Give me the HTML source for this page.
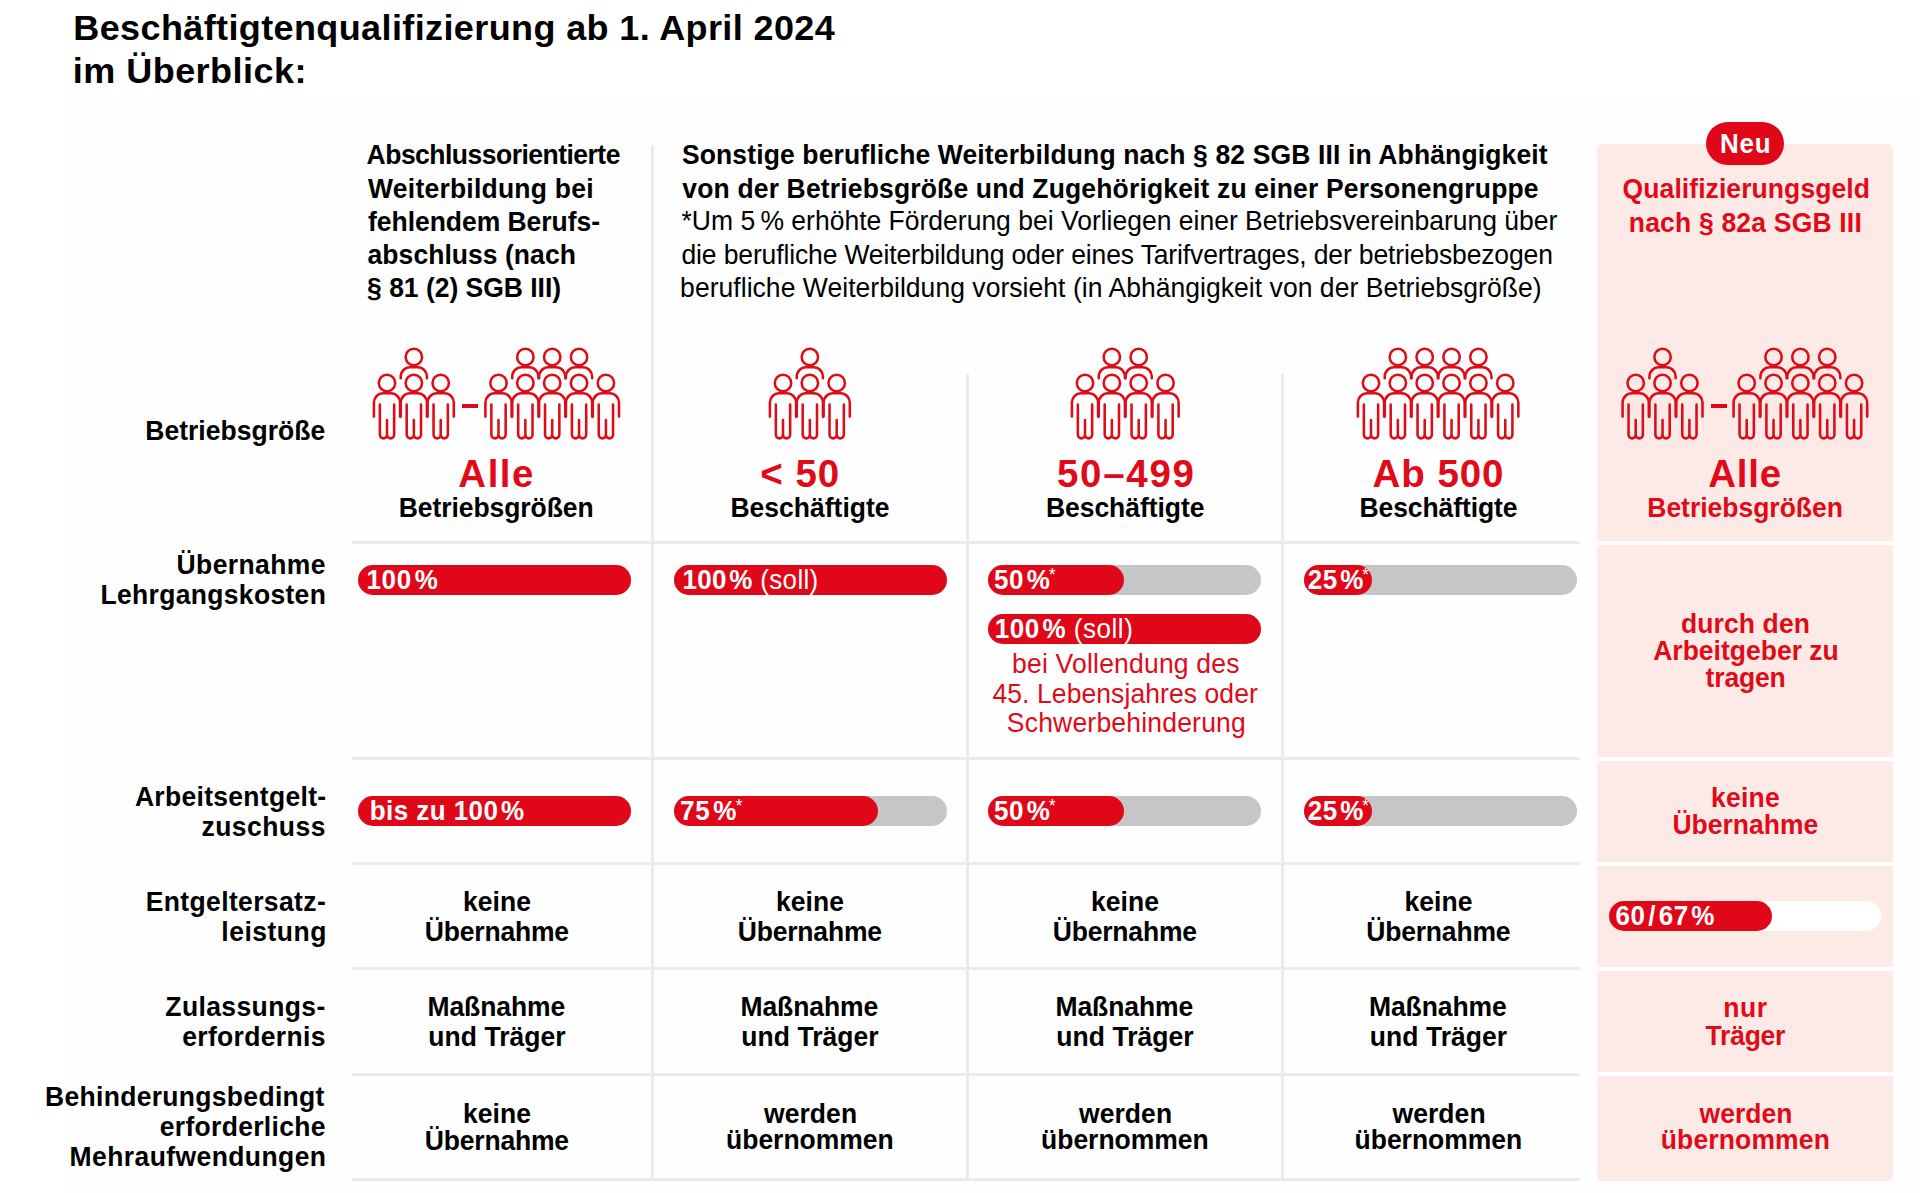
<!DOCTYPE html><html><head><meta charset="utf-8"><style>html,body{margin:0;padding:0;overflow:hidden;}body{width:1920px;height:1193px;position:relative;overflow:hidden;background:#fff;font-family:"Liberation Sans",sans-serif;}</style></head><body>
<div style="position:absolute;left:63px;top:96px;width:1857px;height:1097px;background:#fefefe;border-radius:0px;"></div>
<div id="t0" style="position:absolute;left:73.30px;top:3.52px;width:1200px;text-align:left;font-size:36px;font-weight:700;color:#000;line-height:47px;letter-spacing:0.386px;white-space:nowrap;transform:scaleY(0.98);transform-origin:0 35.98px;"><span>Beschäftigtenqualifizierung ab 1. April 2024</span></div>
<div id="t1" style="position:absolute;left:72.80px;top:46.52px;width:1200px;text-align:left;font-size:36px;font-weight:700;color:#000;line-height:47px;letter-spacing:0.467px;white-space:nowrap;transform:scaleY(0.98);transform-origin:0 35.98px;"><span>im Überblick:</span></div>
<div style="position:absolute;left:1597px;top:144px;width:296px;height:1036.5px;background:#fdeae7;border-radius:6px;"></div>
<div style="position:absolute;left:1597px;top:541px;width:296px;height:4px;background:#fff;border-radius:0px;"></div>
<div style="position:absolute;left:1597px;top:757px;width:296px;height:4px;background:#fff;border-radius:0px;"></div>
<div style="position:absolute;left:1597px;top:862px;width:296px;height:4px;background:#fff;border-radius:0px;"></div>
<div style="position:absolute;left:1597px;top:967px;width:296px;height:4px;background:#fff;border-radius:0px;"></div>
<div style="position:absolute;left:1597px;top:1072px;width:296px;height:4px;background:#fff;border-radius:0px;"></div>
<div style="position:absolute;left:352px;top:541px;width:1228px;height:3px;background:#ebeaed;border-radius:0px;"></div>
<div style="position:absolute;left:352px;top:757px;width:1228px;height:3px;background:#ebeaed;border-radius:0px;"></div>
<div style="position:absolute;left:352px;top:862px;width:1228px;height:3px;background:#ebeaed;border-radius:0px;"></div>
<div style="position:absolute;left:352px;top:967px;width:1228px;height:3px;background:#ebeaed;border-radius:0px;"></div>
<div style="position:absolute;left:352px;top:1072.5px;width:1228px;height:3px;background:#ebeaed;border-radius:0px;"></div>
<div style="position:absolute;left:352px;top:1178px;width:1228px;height:3px;background:#ebeaed;border-radius:0px;"></div>
<div style="position:absolute;left:651px;top:145px;width:3px;height:1035px;background:#ebeaed;border-radius:0px;"></div>
<div style="position:absolute;left:965.5px;top:374px;width:3px;height:806px;background:#ebeaed;border-radius:0px;"></div>
<div style="position:absolute;left:1280.5px;top:374px;width:3px;height:806px;background:#ebeaed;border-radius:0px;"></div>
<div id="h1_0" style="position:absolute;left:366.60px;top:138.31px;width:1200px;text-align:left;font-size:26.5px;font-weight:700;color:#000;line-height:34px;letter-spacing:-0.516px;white-space:nowrap;transform:scaleY(1.03);transform-origin:0 26.19px;"><span>Abschlussorientierte</span></div>
<div id="h1_1" style="position:absolute;left:368.10px;top:171.51px;width:1200px;text-align:left;font-size:26.5px;font-weight:700;color:#000;line-height:34px;letter-spacing:0.225px;white-space:nowrap;transform:scaleY(1.03);transform-origin:0 26.19px;"><span>Weiterbildung bei</span></div>
<div id="h1_2" style="position:absolute;left:368.00px;top:204.71px;width:1200px;text-align:left;font-size:26.5px;font-weight:700;color:#000;line-height:34px;letter-spacing:-0.037px;white-space:nowrap;transform:scaleY(1.03);transform-origin:0 26.19px;"><span>fehlendem Berufs-</span></div>
<div id="h1_3" style="position:absolute;left:367.60px;top:237.91px;width:1200px;text-align:left;font-size:26.5px;font-weight:700;color:#000;line-height:34px;letter-spacing:0.043px;white-space:nowrap;transform:scaleY(1.03);transform-origin:0 26.19px;"><span>abschluss (nach</span></div>
<div id="h1_4" style="position:absolute;left:367.10px;top:271.11px;width:1200px;text-align:left;font-size:26.5px;font-weight:700;color:#000;line-height:34px;letter-spacing:-0.025px;white-space:nowrap;transform:scaleY(1.03);transform-origin:0 26.19px;"><span>§ 81 (2) SGB III)</span></div>
<div id="h2_0" style="position:absolute;left:681.90px;top:138.31px;width:1200px;text-align:left;font-size:26.5px;font-weight:700;color:#000;line-height:34px;letter-spacing:0.133px;white-space:nowrap;transform:scaleY(1.03);transform-origin:0 26.19px;"><span>Sonstige berufliche Weiterbildung nach § 82 SGB III in Abhängigkeit</span></div>
<div id="h2_1" style="position:absolute;left:682.30px;top:171.51px;width:1200px;text-align:left;font-size:26.5px;font-weight:700;color:#000;line-height:34px;letter-spacing:0.155px;white-space:nowrap;transform:scaleY(1.03);transform-origin:0 26.19px;"><span>von der Betriebsgröße und Zugehörigkeit zu einer Personengruppe</span></div>
<div id="h3_0" style="position:absolute;left:681.50px;top:204.31px;width:1200px;text-align:left;font-size:26.5px;font-weight:400;color:#000;line-height:34px;letter-spacing:-0.000px;white-space:nowrap;transform:scaleY(1.03);transform-origin:0 26.19px;"><span>*Um 5&#8201;% erhöhte Förderung bei Vorliegen einer Betriebsvereinbarung über</span></div>
<div id="h3_1" style="position:absolute;left:681.50px;top:237.51px;width:1200px;text-align:left;font-size:26.5px;font-weight:400;color:#000;line-height:34px;letter-spacing:-0.135px;white-space:nowrap;transform:scaleY(1.03);transform-origin:0 26.19px;"><span>die berufliche Weiterbildung oder eines Tarifvertrages, der betriebsbezogen</span></div>
<div id="h3_2" style="position:absolute;left:680.10px;top:270.71px;width:1200px;text-align:left;font-size:26.5px;font-weight:400;color:#000;line-height:34px;letter-spacing:0.044px;white-space:nowrap;transform:scaleY(1.03);transform-origin:0 26.19px;"><span>berufliche Weiterbildung vorsieht (in Abhängigkeit von der Betriebsgröße)</span></div>
<div style="position:absolute;left:1706px;top:122px;width:78px;height:43px;background:#e00818;border-radius:22px;"></div>
<div id="neu" style="position:absolute;left:1145.70px;top:127.29px;width:1200px;text-align:center;font-size:26px;font-weight:700;color:#fff;line-height:34px;letter-spacing:0.700px;white-space:nowrap;transform:scaleY(1.03);transform-origin:0 26.01px;"><span>Neu</span></div>
<div id="h5_0" style="position:absolute;left:1146.30px;top:171.91px;width:1200px;text-align:center;font-size:26.5px;font-weight:700;color:#e00a18;line-height:34px;letter-spacing:0.078px;white-space:nowrap;transform:scaleY(1.03);transform-origin:0 26.19px;"><span>Qualifizierungsgeld</span></div>
<div id="h5_1" style="position:absolute;left:1145.40px;top:206.11px;width:1200px;text-align:center;font-size:26.5px;font-weight:700;color:#e00a18;line-height:34px;letter-spacing:0.188px;white-space:nowrap;transform:scaleY(1.03);transform-origin:0 26.19px;"><span>nach § 82a SGB III</span></div>
<svg style="position:absolute;left:0;top:0" width="1920" height="1193"><g fill="none" stroke="#dc0d18" stroke-width="2.55" stroke-linecap="round"><circle cx="413.85" cy="357.00" r="8.2"/><path d="M400.75 378.30 V376.60 A9.3 9.3 0 0 1 410.05 367.30 H417.65 A9.3 9.3 0 0 1 426.95 376.60 V378.30"/><circle cx="387.00" cy="383.00" r="8.2"/><path d="M373.90 416.60 V402.60 A9.3 9.3 0 0 1 383.20 393.30 H390.80 A9.3 9.3 0 0 1 400.10 402.60 V416.60"/><path d="M379.85 404.50 V434.80 A3.575 3.575 0 0 0 387.00 434.80 A3.575 3.575 0 0 0 394.15 434.80 V404.50 M387.00 434.80 V420.00"/><circle cx="413.85" cy="383.00" r="8.2"/><path d="M400.75 416.60 V402.60 A9.3 9.3 0 0 1 410.05 393.30 H417.65 A9.3 9.3 0 0 1 426.95 402.60 V416.60"/><path d="M406.70 404.50 V434.80 A3.575 3.575 0 0 0 413.85 434.80 A3.575 3.575 0 0 0 421.00 434.80 V404.50 M413.85 434.80 V420.00"/><circle cx="440.70" cy="383.00" r="8.2"/><path d="M427.60 416.60 V402.60 A9.3 9.3 0 0 1 436.90 393.30 H444.50 A9.3 9.3 0 0 1 453.80 402.60 V416.60"/><path d="M433.55 404.50 V434.80 A3.575 3.575 0 0 0 440.70 434.80 A3.575 3.575 0 0 0 447.85 434.80 V404.50 M440.70 434.80 V420.00"/><circle cx="525.35" cy="357.00" r="8.2"/><path d="M512.25 378.30 V376.60 A9.3 9.3 0 0 1 521.55 367.30 H529.15 A9.3 9.3 0 0 1 538.45 376.60 V378.30"/><circle cx="552.20" cy="357.00" r="8.2"/><path d="M539.10 378.30 V376.60 A9.3 9.3 0 0 1 548.40 367.30 H556.00 A9.3 9.3 0 0 1 565.30 376.60 V378.30"/><circle cx="579.05" cy="357.00" r="8.2"/><path d="M565.95 378.30 V376.60 A9.3 9.3 0 0 1 575.25 367.30 H582.85 A9.3 9.3 0 0 1 592.15 376.60 V378.30"/><circle cx="498.50" cy="383.00" r="8.2"/><path d="M485.40 416.60 V402.60 A9.3 9.3 0 0 1 494.70 393.30 H502.30 A9.3 9.3 0 0 1 511.60 402.60 V416.60"/><path d="M491.35 404.50 V434.80 A3.575 3.575 0 0 0 498.50 434.80 A3.575 3.575 0 0 0 505.65 434.80 V404.50 M498.50 434.80 V420.00"/><circle cx="525.35" cy="383.00" r="8.2"/><path d="M512.25 416.60 V402.60 A9.3 9.3 0 0 1 521.55 393.30 H529.15 A9.3 9.3 0 0 1 538.45 402.60 V416.60"/><path d="M518.20 404.50 V434.80 A3.575 3.575 0 0 0 525.35 434.80 A3.575 3.575 0 0 0 532.50 434.80 V404.50 M525.35 434.80 V420.00"/><circle cx="552.20" cy="383.00" r="8.2"/><path d="M539.10 416.60 V402.60 A9.3 9.3 0 0 1 548.40 393.30 H556.00 A9.3 9.3 0 0 1 565.30 402.60 V416.60"/><path d="M545.05 404.50 V434.80 A3.575 3.575 0 0 0 552.20 434.80 A3.575 3.575 0 0 0 559.35 434.80 V404.50 M552.20 434.80 V420.00"/><circle cx="579.05" cy="383.00" r="8.2"/><path d="M565.95 416.60 V402.60 A9.3 9.3 0 0 1 575.25 393.30 H582.85 A9.3 9.3 0 0 1 592.15 402.60 V416.60"/><path d="M571.90 404.50 V434.80 A3.575 3.575 0 0 0 579.05 434.80 A3.575 3.575 0 0 0 586.20 434.80 V404.50 M579.05 434.80 V420.00"/><circle cx="605.90" cy="383.00" r="8.2"/><path d="M592.80 416.60 V402.60 A9.3 9.3 0 0 1 602.10 393.30 H609.70 A9.3 9.3 0 0 1 619.00 402.60 V416.60"/><path d="M598.75 404.50 V434.80 A3.575 3.575 0 0 0 605.90 434.80 A3.575 3.575 0 0 0 613.05 434.80 V404.50 M605.90 434.80 V420.00"/><circle cx="809.85" cy="357.00" r="8.2"/><path d="M796.75 378.30 V376.60 A9.3 9.3 0 0 1 806.05 367.30 H813.65 A9.3 9.3 0 0 1 822.95 376.60 V378.30"/><circle cx="783.00" cy="383.00" r="8.2"/><path d="M769.90 416.60 V402.60 A9.3 9.3 0 0 1 779.20 393.30 H786.80 A9.3 9.3 0 0 1 796.10 402.60 V416.60"/><path d="M775.85 404.50 V434.80 A3.575 3.575 0 0 0 783.00 434.80 A3.575 3.575 0 0 0 790.15 434.80 V404.50 M783.00 434.80 V420.00"/><circle cx="809.85" cy="383.00" r="8.2"/><path d="M796.75 416.60 V402.60 A9.3 9.3 0 0 1 806.05 393.30 H813.65 A9.3 9.3 0 0 1 822.95 402.60 V416.60"/><path d="M802.70 404.50 V434.80 A3.575 3.575 0 0 0 809.85 434.80 A3.575 3.575 0 0 0 817.00 434.80 V404.50 M809.85 434.80 V420.00"/><circle cx="836.70" cy="383.00" r="8.2"/><path d="M823.60 416.60 V402.60 A9.3 9.3 0 0 1 832.90 393.30 H840.50 A9.3 9.3 0 0 1 849.80 402.60 V416.60"/><path d="M829.55 404.50 V434.80 A3.575 3.575 0 0 0 836.70 434.80 A3.575 3.575 0 0 0 843.85 434.80 V404.50 M836.70 434.80 V420.00"/><circle cx="1111.85" cy="357.00" r="8.2"/><path d="M1098.75 378.30 V376.60 A9.3 9.3 0 0 1 1108.05 367.30 H1115.65 A9.3 9.3 0 0 1 1124.95 376.60 V378.30"/><circle cx="1138.70" cy="357.00" r="8.2"/><path d="M1125.60 378.30 V376.60 A9.3 9.3 0 0 1 1134.90 367.30 H1142.50 A9.3 9.3 0 0 1 1151.80 376.60 V378.30"/><circle cx="1085.00" cy="383.00" r="8.2"/><path d="M1071.90 416.60 V402.60 A9.3 9.3 0 0 1 1081.20 393.30 H1088.80 A9.3 9.3 0 0 1 1098.10 402.60 V416.60"/><path d="M1077.85 404.50 V434.80 A3.575 3.575 0 0 0 1085.00 434.80 A3.575 3.575 0 0 0 1092.15 434.80 V404.50 M1085.00 434.80 V420.00"/><circle cx="1111.85" cy="383.00" r="8.2"/><path d="M1098.75 416.60 V402.60 A9.3 9.3 0 0 1 1108.05 393.30 H1115.65 A9.3 9.3 0 0 1 1124.95 402.60 V416.60"/><path d="M1104.70 404.50 V434.80 A3.575 3.575 0 0 0 1111.85 434.80 A3.575 3.575 0 0 0 1119.00 434.80 V404.50 M1111.85 434.80 V420.00"/><circle cx="1138.70" cy="383.00" r="8.2"/><path d="M1125.60 416.60 V402.60 A9.3 9.3 0 0 1 1134.90 393.30 H1142.50 A9.3 9.3 0 0 1 1151.80 402.60 V416.60"/><path d="M1131.55 404.50 V434.80 A3.575 3.575 0 0 0 1138.70 434.80 A3.575 3.575 0 0 0 1145.85 434.80 V404.50 M1138.70 434.80 V420.00"/><circle cx="1165.55" cy="383.00" r="8.2"/><path d="M1152.45 416.60 V402.60 A9.3 9.3 0 0 1 1161.75 393.30 H1169.35 A9.3 9.3 0 0 1 1178.65 402.60 V416.60"/><path d="M1158.40 404.50 V434.80 A3.575 3.575 0 0 0 1165.55 434.80 A3.575 3.575 0 0 0 1172.70 434.80 V404.50 M1165.55 434.80 V420.00"/><circle cx="1397.85" cy="357.00" r="8.2"/><path d="M1384.75 378.30 V376.60 A9.3 9.3 0 0 1 1394.05 367.30 H1401.65 A9.3 9.3 0 0 1 1410.95 376.60 V378.30"/><circle cx="1424.70" cy="357.00" r="8.2"/><path d="M1411.60 378.30 V376.60 A9.3 9.3 0 0 1 1420.90 367.30 H1428.50 A9.3 9.3 0 0 1 1437.80 376.60 V378.30"/><circle cx="1451.55" cy="357.00" r="8.2"/><path d="M1438.45 378.30 V376.60 A9.3 9.3 0 0 1 1447.75 367.30 H1455.35 A9.3 9.3 0 0 1 1464.65 376.60 V378.30"/><circle cx="1478.40" cy="357.00" r="8.2"/><path d="M1465.30 378.30 V376.60 A9.3 9.3 0 0 1 1474.60 367.30 H1482.20 A9.3 9.3 0 0 1 1491.50 376.60 V378.30"/><circle cx="1371.00" cy="383.00" r="8.2"/><path d="M1357.90 416.60 V402.60 A9.3 9.3 0 0 1 1367.20 393.30 H1374.80 A9.3 9.3 0 0 1 1384.10 402.60 V416.60"/><path d="M1363.85 404.50 V434.80 A3.575 3.575 0 0 0 1371.00 434.80 A3.575 3.575 0 0 0 1378.15 434.80 V404.50 M1371.00 434.80 V420.00"/><circle cx="1397.85" cy="383.00" r="8.2"/><path d="M1384.75 416.60 V402.60 A9.3 9.3 0 0 1 1394.05 393.30 H1401.65 A9.3 9.3 0 0 1 1410.95 402.60 V416.60"/><path d="M1390.70 404.50 V434.80 A3.575 3.575 0 0 0 1397.85 434.80 A3.575 3.575 0 0 0 1405.00 434.80 V404.50 M1397.85 434.80 V420.00"/><circle cx="1424.70" cy="383.00" r="8.2"/><path d="M1411.60 416.60 V402.60 A9.3 9.3 0 0 1 1420.90 393.30 H1428.50 A9.3 9.3 0 0 1 1437.80 402.60 V416.60"/><path d="M1417.55 404.50 V434.80 A3.575 3.575 0 0 0 1424.70 434.80 A3.575 3.575 0 0 0 1431.85 434.80 V404.50 M1424.70 434.80 V420.00"/><circle cx="1451.55" cy="383.00" r="8.2"/><path d="M1438.45 416.60 V402.60 A9.3 9.3 0 0 1 1447.75 393.30 H1455.35 A9.3 9.3 0 0 1 1464.65 402.60 V416.60"/><path d="M1444.40 404.50 V434.80 A3.575 3.575 0 0 0 1451.55 434.80 A3.575 3.575 0 0 0 1458.70 434.80 V404.50 M1451.55 434.80 V420.00"/><circle cx="1478.40" cy="383.00" r="8.2"/><path d="M1465.30 416.60 V402.60 A9.3 9.3 0 0 1 1474.60 393.30 H1482.20 A9.3 9.3 0 0 1 1491.50 402.60 V416.60"/><path d="M1471.25 404.50 V434.80 A3.575 3.575 0 0 0 1478.40 434.80 A3.575 3.575 0 0 0 1485.55 434.80 V404.50 M1478.40 434.80 V420.00"/><circle cx="1505.25" cy="383.00" r="8.2"/><path d="M1492.15 416.60 V402.60 A9.3 9.3 0 0 1 1501.45 393.30 H1509.05 A9.3 9.3 0 0 1 1518.35 402.60 V416.60"/><path d="M1498.10 404.50 V434.80 A3.575 3.575 0 0 0 1505.25 434.80 A3.575 3.575 0 0 0 1512.40 434.80 V404.50 M1505.25 434.80 V420.00"/><circle cx="1662.55" cy="357.00" r="8.2"/><path d="M1649.45 378.30 V376.60 A9.3 9.3 0 0 1 1658.75 367.30 H1666.35 A9.3 9.3 0 0 1 1675.65 376.60 V378.30"/><circle cx="1635.70" cy="383.00" r="8.2"/><path d="M1622.60 416.60 V402.60 A9.3 9.3 0 0 1 1631.90 393.30 H1639.50 A9.3 9.3 0 0 1 1648.80 402.60 V416.60"/><path d="M1628.55 404.50 V434.80 A3.575 3.575 0 0 0 1635.70 434.80 A3.575 3.575 0 0 0 1642.85 434.80 V404.50 M1635.70 434.80 V420.00"/><circle cx="1662.55" cy="383.00" r="8.2"/><path d="M1649.45 416.60 V402.60 A9.3 9.3 0 0 1 1658.75 393.30 H1666.35 A9.3 9.3 0 0 1 1675.65 402.60 V416.60"/><path d="M1655.40 404.50 V434.80 A3.575 3.575 0 0 0 1662.55 434.80 A3.575 3.575 0 0 0 1669.70 434.80 V404.50 M1662.55 434.80 V420.00"/><circle cx="1689.40" cy="383.00" r="8.2"/><path d="M1676.30 416.60 V402.60 A9.3 9.3 0 0 1 1685.60 393.30 H1693.20 A9.3 9.3 0 0 1 1702.50 402.60 V416.60"/><path d="M1682.25 404.50 V434.80 A3.575 3.575 0 0 0 1689.40 434.80 A3.575 3.575 0 0 0 1696.55 434.80 V404.50 M1689.40 434.80 V420.00"/><circle cx="1773.55" cy="357.00" r="8.2"/><path d="M1760.45 378.30 V376.60 A9.3 9.3 0 0 1 1769.75 367.30 H1777.35 A9.3 9.3 0 0 1 1786.65 376.60 V378.30"/><circle cx="1800.40" cy="357.00" r="8.2"/><path d="M1787.30 378.30 V376.60 A9.3 9.3 0 0 1 1796.60 367.30 H1804.20 A9.3 9.3 0 0 1 1813.50 376.60 V378.30"/><circle cx="1827.25" cy="357.00" r="8.2"/><path d="M1814.15 378.30 V376.60 A9.3 9.3 0 0 1 1823.45 367.30 H1831.05 A9.3 9.3 0 0 1 1840.35 376.60 V378.30"/><circle cx="1746.70" cy="383.00" r="8.2"/><path d="M1733.60 416.60 V402.60 A9.3 9.3 0 0 1 1742.90 393.30 H1750.50 A9.3 9.3 0 0 1 1759.80 402.60 V416.60"/><path d="M1739.55 404.50 V434.80 A3.575 3.575 0 0 0 1746.70 434.80 A3.575 3.575 0 0 0 1753.85 434.80 V404.50 M1746.70 434.80 V420.00"/><circle cx="1773.55" cy="383.00" r="8.2"/><path d="M1760.45 416.60 V402.60 A9.3 9.3 0 0 1 1769.75 393.30 H1777.35 A9.3 9.3 0 0 1 1786.65 402.60 V416.60"/><path d="M1766.40 404.50 V434.80 A3.575 3.575 0 0 0 1773.55 434.80 A3.575 3.575 0 0 0 1780.70 434.80 V404.50 M1773.55 434.80 V420.00"/><circle cx="1800.40" cy="383.00" r="8.2"/><path d="M1787.30 416.60 V402.60 A9.3 9.3 0 0 1 1796.60 393.30 H1804.20 A9.3 9.3 0 0 1 1813.50 402.60 V416.60"/><path d="M1793.25 404.50 V434.80 A3.575 3.575 0 0 0 1800.40 434.80 A3.575 3.575 0 0 0 1807.55 434.80 V404.50 M1800.40 434.80 V420.00"/><circle cx="1827.25" cy="383.00" r="8.2"/><path d="M1814.15 416.60 V402.60 A9.3 9.3 0 0 1 1823.45 393.30 H1831.05 A9.3 9.3 0 0 1 1840.35 402.60 V416.60"/><path d="M1820.10 404.50 V434.80 A3.575 3.575 0 0 0 1827.25 434.80 A3.575 3.575 0 0 0 1834.40 434.80 V404.50 M1827.25 434.80 V420.00"/><circle cx="1854.10" cy="383.00" r="8.2"/><path d="M1841.00 416.60 V402.60 A9.3 9.3 0 0 1 1850.30 393.30 H1857.90 A9.3 9.3 0 0 1 1867.20 402.60 V416.60"/><path d="M1846.95 404.50 V434.80 A3.575 3.575 0 0 0 1854.10 434.80 A3.575 3.575 0 0 0 1861.25 434.80 V404.50 M1854.10 434.80 V420.00"/></g></svg>
<div style="position:absolute;left:462px;top:404px;width:16px;height:4px;background:#e00818;border-radius:0px;"></div>
<div style="position:absolute;left:1710.5px;top:404px;width:16px;height:4px;background:#e00818;border-radius:0px;"></div>
<div id="big0" style="position:absolute;left:-103.40px;top:449.15px;width:1200px;text-align:center;font-size:38.5px;font-weight:700;color:#e00a18;line-height:50px;letter-spacing:1.467px;white-space:nowrap;transform:scaleY(1.03);transform-origin:0 38.35px;"><span>Alle</span></div>
<div id="big1" style="position:absolute;left:200.30px;top:449.15px;width:1200px;text-align:center;font-size:38.5px;font-weight:700;color:#e00a18;line-height:50px;letter-spacing:1.000px;white-space:nowrap;transform:scaleY(1.03);transform-origin:0 38.35px;"><span>&lt; 50</span></div>
<div id="big2" style="position:absolute;left:526.30px;top:449.15px;width:1200px;text-align:center;font-size:38.5px;font-weight:700;color:#e00a18;line-height:50px;letter-spacing:1.720px;white-space:nowrap;transform:scaleY(1.03);transform-origin:0 38.35px;"><span>50–499</span></div>
<div id="big3" style="position:absolute;left:838.50px;top:449.15px;width:1200px;text-align:center;font-size:38.5px;font-weight:700;color:#e00a18;line-height:50px;letter-spacing:0.920px;white-space:nowrap;transform:scaleY(1.03);transform-origin:0 38.35px;"><span>Ab 500</span></div>
<div id="big4" style="position:absolute;left:1145.10px;top:449.15px;width:1200px;text-align:center;font-size:38.5px;font-weight:700;color:#e00a18;line-height:50px;letter-spacing:0.733px;white-space:nowrap;transform:scaleY(1.03);transform-origin:0 38.35px;"><span>Alle</span></div>
<div id="sub0" style="position:absolute;left:-103.80px;top:490.61px;width:1200px;text-align:center;font-size:26.5px;font-weight:700;color:#000;line-height:34px;letter-spacing:-0.062px;white-space:nowrap;transform:scaleY(1.03);transform-origin:0 26.19px;"><span>Betriebsgrößen</span></div>
<div id="sub1" style="position:absolute;left:210.00px;top:490.61px;width:1200px;text-align:center;font-size:26.5px;font-weight:700;color:#000;line-height:34px;letter-spacing:-0.000px;white-space:nowrap;transform:scaleY(1.03);transform-origin:0 26.19px;"><span>Beschäftigte</span></div>
<div id="sub2" style="position:absolute;left:525.20px;top:490.61px;width:1200px;text-align:center;font-size:26.5px;font-weight:700;color:#000;line-height:34px;letter-spacing:-0.036px;white-space:nowrap;transform:scaleY(1.03);transform-origin:0 26.19px;"><span>Beschäftigte</span></div>
<div id="sub3" style="position:absolute;left:838.50px;top:490.61px;width:1200px;text-align:center;font-size:26.5px;font-weight:700;color:#000;line-height:34px;letter-spacing:-0.091px;white-space:nowrap;transform:scaleY(1.03);transform-origin:0 26.19px;"><span>Beschäftigte</span></div>
<div id="sub4" style="position:absolute;left:1145.10px;top:490.61px;width:1200px;text-align:center;font-size:26.5px;font-weight:700;color:#e00a18;line-height:34px;letter-spacing:-0.015px;white-space:nowrap;transform:scaleY(1.03);transform-origin:0 26.19px;"><span>Betriebsgrößen</span></div>
<div id="l0" style="position:absolute;left:-874.70px;top:413.91px;width:1200px;text-align:right;font-size:26.5px;font-weight:700;color:#000;line-height:34px;letter-spacing:0.033px;white-space:nowrap;transform:scaleY(1.03);transform-origin:0 26.19px;"><span>Betriebsgröße</span></div>
<div id="l1" style="position:absolute;left:-874.10px;top:548.31px;width:1200px;text-align:right;font-size:26.5px;font-weight:700;color:#000;line-height:34px;letter-spacing:0.400px;white-space:nowrap;transform:scaleY(1.03);transform-origin:0 26.19px;"><span>Übernahme</span></div>
<div id="l2" style="position:absolute;left:-873.80px;top:578.31px;width:1200px;text-align:right;font-size:26.5px;font-weight:700;color:#000;line-height:34px;letter-spacing:0.329px;white-space:nowrap;transform:scaleY(1.03);transform-origin:0 26.19px;"><span>Lehrgangskosten</span></div>
<div id="l3" style="position:absolute;left:-873.60px;top:779.61px;width:1200px;text-align:right;font-size:26.5px;font-weight:700;color:#000;line-height:34px;letter-spacing:0.300px;white-space:nowrap;transform:scaleY(1.03);transform-origin:0 26.19px;"><span>Arbeitsentgelt-</span></div>
<div id="l4" style="position:absolute;left:-874.10px;top:809.51px;width:1200px;text-align:right;font-size:26.5px;font-weight:700;color:#000;line-height:34px;letter-spacing:0.457px;white-space:nowrap;transform:scaleY(1.03);transform-origin:0 26.19px;"><span>zuschuss</span></div>
<div id="l5" style="position:absolute;left:-873.90px;top:885.01px;width:1200px;text-align:right;font-size:26.5px;font-weight:700;color:#000;line-height:34px;letter-spacing:0.369px;white-space:nowrap;transform:scaleY(1.03);transform-origin:0 26.19px;"><span>Entgeltersatz-</span></div>
<div id="l6" style="position:absolute;left:-873.20px;top:914.91px;width:1200px;text-align:right;font-size:26.5px;font-weight:700;color:#000;line-height:34px;letter-spacing:0.486px;white-space:nowrap;transform:scaleY(1.03);transform-origin:0 26.19px;"><span>leistung</span></div>
<div id="l7" style="position:absolute;left:-874.40px;top:990.01px;width:1200px;text-align:right;font-size:26.5px;font-weight:700;color:#000;line-height:34px;letter-spacing:0.380px;white-space:nowrap;transform:scaleY(1.03);transform-origin:0 26.19px;"><span>Zulassungs-</span></div>
<div id="l8" style="position:absolute;left:-874.20px;top:1020.31px;width:1200px;text-align:right;font-size:26.5px;font-weight:700;color:#000;line-height:34px;letter-spacing:0.340px;white-space:nowrap;transform:scaleY(1.03);transform-origin:0 26.19px;"><span>erfordernis</span></div>
<div id="l9" style="position:absolute;left:-875.30px;top:1080.21px;width:1200px;text-align:right;font-size:26.5px;font-weight:700;color:#000;line-height:34px;letter-spacing:0.311px;white-space:nowrap;transform:scaleY(1.03);transform-origin:0 26.19px;"><span>Behinderungsbedingt</span></div>
<div id="l10" style="position:absolute;left:-874.30px;top:1109.91px;width:1200px;text-align:right;font-size:26.5px;font-weight:700;color:#000;line-height:34px;letter-spacing:0.300px;white-space:nowrap;transform:scaleY(1.03);transform-origin:0 26.19px;"><span>erforderliche</span></div>
<div id="l11" style="position:absolute;left:-873.60px;top:1140.01px;width:1200px;text-align:right;font-size:26.5px;font-weight:700;color:#000;line-height:34px;letter-spacing:0.413px;white-space:nowrap;transform:scaleY(1.03);transform-origin:0 26.19px;"><span>Mehraufwendungen</span></div>
<div style="position:absolute;left:358px;top:565px;width:273px;height:30px;background:#c6c6c8;border-radius:15px;"></div>
<div style="position:absolute;left:358px;top:565px;width:273px;height:30px;background:#e00818;border-radius:15px;"></div>
<div id="b0" style="position:absolute;left:366.40px;top:563.39px;width:1200px;text-align:left;font-size:26px;font-weight:700;color:#fff;line-height:34px;letter-spacing:0.700px;white-space:nowrap;transform:scaleY(1.03);transform-origin:0 26.01px;"><span>100&#8202;%</span></div>
<div style="position:absolute;left:674px;top:565px;width:273px;height:30px;background:#c6c6c8;border-radius:15px;"></div>
<div style="position:absolute;left:674px;top:565px;width:273px;height:30px;background:#e00818;border-radius:15px;"></div>
<div id="b1" style="position:absolute;left:682.50px;top:563.39px;width:1200px;text-align:left;font-size:26px;font-weight:700;color:#fff;line-height:34px;letter-spacing:0.318px;white-space:nowrap;transform:scaleY(1.03);transform-origin:0 26.01px;"><span>100&#8202;%<span style="font-weight:400"> (soll)</span></span></div>
<div style="position:absolute;left:988px;top:565px;width:273px;height:30px;background:#c6c6c8;border-radius:15px;"></div>
<div style="position:absolute;left:988px;top:565px;width:136.0px;height:30px;background:#e00818;border-radius:15px;"></div>
<div id="b2" style="position:absolute;left:994.10px;top:563.39px;width:1200px;text-align:left;font-size:26px;font-weight:700;color:#fff;line-height:34px;letter-spacing:0.550px;white-space:nowrap;transform:scaleY(1.03);transform-origin:0 26.01px;"><span>50&#8202;%<span style="font-size:17px;position:relative;top:-8px;font-weight:400;margin-left:-1.5px">*</span></span></div>
<div style="position:absolute;left:988px;top:614px;width:273px;height:30px;background:#c6c6c8;border-radius:15px;"></div>
<div style="position:absolute;left:988px;top:614px;width:273px;height:30px;background:#e00818;border-radius:15px;"></div>
<div id="b3" style="position:absolute;left:994.70px;top:612.39px;width:1200px;text-align:left;font-size:26px;font-weight:700;color:#fff;line-height:34px;letter-spacing:0.536px;white-space:nowrap;transform:scaleY(1.03);transform-origin:0 26.01px;"><span>100&#8202;%<span style="font-weight:400"> (soll)</span></span></div>
<div style="position:absolute;left:1303.5px;top:565px;width:273px;height:30px;background:#c6c6c8;border-radius:15px;"></div>
<div style="position:absolute;left:1303.5px;top:565px;width:68.0px;height:30px;background:#e00818;border-radius:15px;"></div>
<div id="b4" style="position:absolute;left:1307.80px;top:563.39px;width:1200px;text-align:left;font-size:26px;font-weight:700;color:#fff;line-height:34px;letter-spacing:0.450px;white-space:nowrap;transform:scaleY(1.03);transform-origin:0 26.01px;"><span>25&#8202;%<span style="font-size:17px;position:relative;top:-8px;font-weight:400;margin-left:-1.5px">*</span></span></div>
<div id="r3_0" style="position:absolute;left:525.90px;top:647.21px;width:1200px;text-align:center;font-size:26.5px;font-weight:400;color:#e00a18;line-height:34px;letter-spacing:0.200px;white-space:nowrap;transform:scaleY(1.03);transform-origin:0 26.19px;"><span>bei Vollendung des</span></div>
<div id="r3_1" style="position:absolute;left:525.20px;top:676.81px;width:1200px;text-align:center;font-size:26.5px;font-weight:400;color:#e00a18;line-height:34px;letter-spacing:0.080px;white-space:nowrap;transform:scaleY(1.03);transform-origin:0 26.19px;"><span>45. Lebensjahres oder</span></div>
<div id="r3_2" style="position:absolute;left:526.40px;top:706.41px;width:1200px;text-align:center;font-size:26.5px;font-weight:400;color:#e00a18;line-height:34px;letter-spacing:0.200px;white-space:nowrap;transform:scaleY(1.03);transform-origin:0 26.19px;"><span>Schwerbehinderung</span></div>
<div id="p0" style="position:absolute;left:1145.50px;top:606.91px;width:1200px;text-align:center;font-size:26.5px;font-weight:700;color:#e00a18;line-height:34px;letter-spacing:0.125px;white-space:nowrap;transform:scaleY(1.03);transform-origin:0 26.19px;"><span>durch den</span></div>
<div id="p1" style="position:absolute;left:1146.00px;top:634.01px;width:1200px;text-align:center;font-size:26.5px;font-weight:700;color:#e00a18;line-height:34px;letter-spacing:-0.000px;white-space:nowrap;transform:scaleY(1.03);transform-origin:0 26.19px;"><span>Arbeitgeber zu</span></div>
<div id="p2" style="position:absolute;left:1145.60px;top:660.51px;width:1200px;text-align:center;font-size:26.5px;font-weight:700;color:#e00a18;line-height:34px;letter-spacing:-0.160px;white-space:nowrap;transform:scaleY(1.03);transform-origin:0 26.19px;"><span>tragen</span></div>
<div style="position:absolute;left:358px;top:796px;width:273px;height:30px;background:#c6c6c8;border-radius:15px;"></div>
<div style="position:absolute;left:358px;top:796px;width:273px;height:30px;background:#e00818;border-radius:15px;"></div>
<div id="b5" style="position:absolute;left:369.70px;top:794.39px;width:1200px;text-align:left;font-size:26px;font-weight:700;color:#fff;line-height:34px;letter-spacing:0.445px;white-space:nowrap;transform:scaleY(1.03);transform-origin:0 26.01px;"><span>bis zu 100&#8202;%</span></div>
<div style="position:absolute;left:674px;top:796px;width:273px;height:30px;background:#c6c6c8;border-radius:15px;"></div>
<div style="position:absolute;left:674px;top:796px;width:204.0px;height:30px;background:#e00818;border-radius:15px;"></div>
<div id="b6" style="position:absolute;left:680.00px;top:794.39px;width:1200px;text-align:left;font-size:26px;font-weight:700;color:#fff;line-height:34px;letter-spacing:0.750px;white-space:nowrap;transform:scaleY(1.03);transform-origin:0 26.01px;"><span>75&#8202;%<span style="font-size:17px;position:relative;top:-8px;font-weight:400;margin-left:-1.5px">*</span></span></div>
<div style="position:absolute;left:988px;top:796px;width:273px;height:30px;background:#c6c6c8;border-radius:15px;"></div>
<div style="position:absolute;left:988px;top:796px;width:136.0px;height:30px;background:#e00818;border-radius:15px;"></div>
<div id="b7" style="position:absolute;left:994.10px;top:794.39px;width:1200px;text-align:left;font-size:26px;font-weight:700;color:#fff;line-height:34px;letter-spacing:0.550px;white-space:nowrap;transform:scaleY(1.03);transform-origin:0 26.01px;"><span>50&#8202;%<span style="font-size:17px;position:relative;top:-8px;font-weight:400;margin-left:-1.5px">*</span></span></div>
<div style="position:absolute;left:1303.5px;top:796px;width:273px;height:30px;background:#c6c6c8;border-radius:15px;"></div>
<div style="position:absolute;left:1303.5px;top:796px;width:68.0px;height:30px;background:#e00818;border-radius:15px;"></div>
<div id="b8" style="position:absolute;left:1307.80px;top:794.39px;width:1200px;text-align:left;font-size:26px;font-weight:700;color:#fff;line-height:34px;letter-spacing:0.450px;white-space:nowrap;transform:scaleY(1.03);transform-origin:0 26.01px;"><span>25&#8202;%<span style="font-size:17px;position:relative;top:-8px;font-weight:400;margin-left:-1.5px">*</span></span></div>
<div id="p3" style="position:absolute;left:1145.50px;top:781.31px;width:1200px;text-align:center;font-size:26.5px;font-weight:700;color:#e00a18;line-height:34px;letter-spacing:0.250px;white-space:nowrap;transform:scaleY(1.03);transform-origin:0 26.19px;"><span>keine</span></div>
<div id="p4" style="position:absolute;left:1145.40px;top:807.91px;width:1200px;text-align:center;font-size:26.5px;font-weight:700;color:#e00a18;line-height:34px;letter-spacing:0.000px;white-space:nowrap;transform:scaleY(1.03);transform-origin:0 26.19px;"><span>Übernahme</span></div>
<div id="c4a0" style="position:absolute;left:-103.00px;top:885.06px;width:1200px;text-align:center;font-size:26.5px;font-weight:700;color:#000;line-height:34px;letter-spacing:0.000px;white-space:nowrap;transform:scaleY(1.03);transform-origin:0 26.19px;"><span>keine</span></div>
<div id="c4b0" style="position:absolute;left:-103.20px;top:914.71px;width:1200px;text-align:center;font-size:26.5px;font-weight:700;color:#000;line-height:34px;letter-spacing:-0.200px;white-space:nowrap;transform:scaleY(1.03);transform-origin:0 26.19px;"><span>Übernahme</span></div>
<div id="c5a0" style="position:absolute;left:-103.70px;top:990.21px;width:1200px;text-align:center;font-size:26.5px;font-weight:700;color:#000;line-height:34px;letter-spacing:-0.086px;white-space:nowrap;transform:scaleY(1.03);transform-origin:0 26.19px;"><span>Maßnahme</span></div>
<div id="c5b0" style="position:absolute;left:-103.00px;top:1020.41px;width:1200px;text-align:center;font-size:26.5px;font-weight:700;color:#000;line-height:34px;letter-spacing:0.044px;white-space:nowrap;transform:scaleY(1.03);transform-origin:0 26.19px;"><span>und Träger</span></div>
<div id="c4a1" style="position:absolute;left:210.00px;top:885.06px;width:1200px;text-align:center;font-size:26.5px;font-weight:700;color:#000;line-height:34px;letter-spacing:0.000px;white-space:nowrap;transform:scaleY(1.03);transform-origin:0 26.19px;"><span>keine</span></div>
<div id="c4b1" style="position:absolute;left:209.80px;top:914.71px;width:1200px;text-align:center;font-size:26.5px;font-weight:700;color:#000;line-height:34px;letter-spacing:-0.200px;white-space:nowrap;transform:scaleY(1.03);transform-origin:0 26.19px;"><span>Übernahme</span></div>
<div id="c5a1" style="position:absolute;left:209.30px;top:990.21px;width:1200px;text-align:center;font-size:26.5px;font-weight:700;color:#000;line-height:34px;letter-spacing:-0.086px;white-space:nowrap;transform:scaleY(1.03);transform-origin:0 26.19px;"><span>Maßnahme</span></div>
<div id="c5b1" style="position:absolute;left:210.00px;top:1020.41px;width:1200px;text-align:center;font-size:26.5px;font-weight:700;color:#000;line-height:34px;letter-spacing:0.044px;white-space:nowrap;transform:scaleY(1.03);transform-origin:0 26.19px;"><span>und Träger</span></div>
<div id="c4a2" style="position:absolute;left:525.00px;top:885.06px;width:1200px;text-align:center;font-size:26.5px;font-weight:700;color:#000;line-height:34px;letter-spacing:0.000px;white-space:nowrap;transform:scaleY(1.03);transform-origin:0 26.19px;"><span>keine</span></div>
<div id="c4b2" style="position:absolute;left:524.80px;top:914.71px;width:1200px;text-align:center;font-size:26.5px;font-weight:700;color:#000;line-height:34px;letter-spacing:-0.200px;white-space:nowrap;transform:scaleY(1.03);transform-origin:0 26.19px;"><span>Übernahme</span></div>
<div id="c5a2" style="position:absolute;left:524.30px;top:990.21px;width:1200px;text-align:center;font-size:26.5px;font-weight:700;color:#000;line-height:34px;letter-spacing:-0.086px;white-space:nowrap;transform:scaleY(1.03);transform-origin:0 26.19px;"><span>Maßnahme</span></div>
<div id="c5b2" style="position:absolute;left:525.00px;top:1020.41px;width:1200px;text-align:center;font-size:26.5px;font-weight:700;color:#000;line-height:34px;letter-spacing:0.044px;white-space:nowrap;transform:scaleY(1.03);transform-origin:0 26.19px;"><span>und Träger</span></div>
<div id="c4a3" style="position:absolute;left:838.50px;top:885.06px;width:1200px;text-align:center;font-size:26.5px;font-weight:700;color:#000;line-height:34px;letter-spacing:0.000px;white-space:nowrap;transform:scaleY(1.03);transform-origin:0 26.19px;"><span>keine</span></div>
<div id="c4b3" style="position:absolute;left:838.30px;top:914.71px;width:1200px;text-align:center;font-size:26.5px;font-weight:700;color:#000;line-height:34px;letter-spacing:-0.200px;white-space:nowrap;transform:scaleY(1.03);transform-origin:0 26.19px;"><span>Übernahme</span></div>
<div id="c5a3" style="position:absolute;left:837.80px;top:990.21px;width:1200px;text-align:center;font-size:26.5px;font-weight:700;color:#000;line-height:34px;letter-spacing:-0.086px;white-space:nowrap;transform:scaleY(1.03);transform-origin:0 26.19px;"><span>Maßnahme</span></div>
<div id="c5b3" style="position:absolute;left:838.50px;top:1020.41px;width:1200px;text-align:center;font-size:26.5px;font-weight:700;color:#000;line-height:34px;letter-spacing:0.044px;white-space:nowrap;transform:scaleY(1.03);transform-origin:0 26.19px;"><span>und Träger</span></div>
<div style="position:absolute;left:1609px;top:901px;width:272px;height:30px;background:#fff;border-radius:15px;"></div>
<div style="position:absolute;left:1609px;top:901px;width:163.0px;height:30px;background:#e00818;border-radius:15px;"></div>
<div id="b9" style="position:absolute;left:1615.60px;top:899.39px;width:1200px;text-align:left;font-size:26px;font-weight:700;color:#fff;line-height:34px;letter-spacing:0.525px;white-space:nowrap;transform:scaleY(1.03);transform-origin:0 26.01px;"><span>60&#8202;/&#8202;67&#8202;%</span></div>
<div id="p5" style="position:absolute;left:1145.40px;top:991.31px;width:1200px;text-align:center;font-size:26.5px;font-weight:700;color:#e00a18;line-height:34px;letter-spacing:0.600px;white-space:nowrap;transform:scaleY(1.03);transform-origin:0 26.19px;"><span>nur</span></div>
<div id="p6" style="position:absolute;left:1145.40px;top:1018.51px;width:1200px;text-align:center;font-size:26.5px;font-weight:700;color:#e00a18;line-height:34px;letter-spacing:-0.240px;white-space:nowrap;transform:scaleY(1.03);transform-origin:0 26.19px;"><span>Träger</span></div>
<div id="c6a0" style="position:absolute;left:-103.00px;top:1096.61px;width:1200px;text-align:center;font-size:26.5px;font-weight:700;color:#000;line-height:34px;letter-spacing:0.000px;white-space:nowrap;transform:scaleY(1.03);transform-origin:0 26.19px;"><span>keine</span></div>
<div id="c6b0" style="position:absolute;left:-103.20px;top:1123.51px;width:1200px;text-align:center;font-size:26.5px;font-weight:700;color:#000;line-height:34px;letter-spacing:-0.200px;white-space:nowrap;transform:scaleY(1.03);transform-origin:0 26.19px;"><span>Übernahme</span></div>
<div id="c6a1" style="position:absolute;left:210.60px;top:1096.61px;width:1200px;text-align:center;font-size:26.5px;font-weight:700;color:#000;line-height:34px;letter-spacing:0.080px;white-space:nowrap;transform:scaleY(1.03);transform-origin:0 26.19px;"><span>werden</span></div>
<div id="c6b1" style="position:absolute;left:209.90px;top:1123.06px;width:1200px;text-align:center;font-size:26.5px;font-weight:700;color:#000;line-height:34px;letter-spacing:-0.022px;white-space:nowrap;transform:scaleY(1.03);transform-origin:0 26.19px;"><span>übernommen</span></div>
<div id="c6a2" style="position:absolute;left:525.60px;top:1096.61px;width:1200px;text-align:center;font-size:26.5px;font-weight:700;color:#000;line-height:34px;letter-spacing:0.080px;white-space:nowrap;transform:scaleY(1.03);transform-origin:0 26.19px;"><span>werden</span></div>
<div id="c6b2" style="position:absolute;left:524.90px;top:1123.06px;width:1200px;text-align:center;font-size:26.5px;font-weight:700;color:#000;line-height:34px;letter-spacing:-0.022px;white-space:nowrap;transform:scaleY(1.03);transform-origin:0 26.19px;"><span>übernommen</span></div>
<div id="c6a3" style="position:absolute;left:839.10px;top:1096.61px;width:1200px;text-align:center;font-size:26.5px;font-weight:700;color:#000;line-height:34px;letter-spacing:0.080px;white-space:nowrap;transform:scaleY(1.03);transform-origin:0 26.19px;"><span>werden</span></div>
<div id="c6b3" style="position:absolute;left:838.40px;top:1123.06px;width:1200px;text-align:center;font-size:26.5px;font-weight:700;color:#000;line-height:34px;letter-spacing:-0.022px;white-space:nowrap;transform:scaleY(1.03);transform-origin:0 26.19px;"><span>übernommen</span></div>
<div id="p7" style="position:absolute;left:1146.10px;top:1096.71px;width:1200px;text-align:center;font-size:26.5px;font-weight:700;color:#e00a18;line-height:34px;letter-spacing:0.040px;white-space:nowrap;transform:scaleY(1.03);transform-origin:0 26.19px;"><span>werden</span></div>
<div id="p8" style="position:absolute;left:1145.40px;top:1123.21px;width:1200px;text-align:center;font-size:26.5px;font-weight:700;color:#e00a18;line-height:34px;letter-spacing:0.133px;white-space:nowrap;transform:scaleY(1.03);transform-origin:0 26.19px;"><span>übernommen</span></div>
</body></html>
